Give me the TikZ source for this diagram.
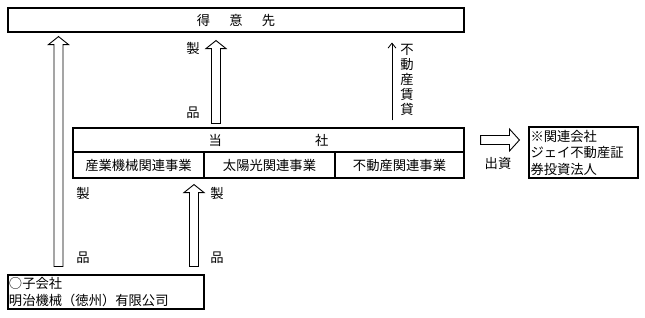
\documentclass[tikz,border=0pt]{standalone}
\usepackage{fontspec}
\setmainfont{Noto Sans CJK JP}
\usetikzlibrary{calc,arrows.meta}

\tikzset{
  box/.style={draw, line width=1.1pt, inner sep=0pt, font=\fontsize{13.3}{16.5}\selectfont},
  lbl/.style={inner sep=0pt, font=\fontsize{13.3}{15}\selectfont},
  fatup/.style={line width=0.9pt, to path={let \p1=(\tikztostart), \p2=(\tikztotarget) in
    (\x1-4.5pt,\y1) -- (\x1-4.5pt,\y2-8pt) -- (\x1-10pt,\y2-8pt) -- (\x1,\y2)
    -- (\x1+10pt,\y2-8pt) -- (\x1+4.5pt,\y2-8pt) -- (\x1+4.5pt,\y1) -- cycle}},
  fatright/.style={line width=0.9pt, to path={let \p1=(\tikztostart), \p2=(\tikztotarget) in
    (\x1,\y1-4.5pt) -- (\x2-10pt,\y1-4.5pt) -- (\x2-10pt,\y1-11pt) -- (\x2,\y1)
    -- (\x2-10pt,\y1+11pt) -- (\x2-10pt,\y1+4.5pt) -- (\x1,\y1+4.5pt) -- cycle}}
}

\begin{document}
\begin{tikzpicture}[x=1pt,y=-1pt,>={Straight Barb[length=5pt,width=8pt]}]
\useasboundingbox (0,0) rectangle (645,317);

% boxes
\node[box, minimum width=456pt, minimum height=24pt] (top) at (236,20) {得\hspace{1.45em}意\hspace{1.45em}先};
\node[box, minimum width=391pt, minimum height=24pt] (tousha) at (268.5,140) {当\hspace{7em}社};
\node[box, minimum width=131pt, minimum height=26pt] (seg1) at (138.5,165) {産業機械関連事業};
\node[box, minimum width=131pt, minimum height=26pt] (seg2) at (269.5,165) {太陽光関連事業};
\node[box, minimum width=129pt, minimum height=26pt] (seg3) at (399.5,165) {不動産関連事業};
\node[box, minimum height=51pt, text width=106pt, inner xsep=1.5pt, align=left] (kanren) at (583.5,152.5)
  {※関連会社\\ジェイ不動産証\\券投資法人};
\node[box, minimum height=34pt, text width=194pt, inner xsep=1pt, align=left] (sub) at (106,292)
  {○子会社\\明治機械（徳州）有限公司};

% arrows
\coordinate (xa) at (58.5,0);
\coordinate (xb) at (216,0);
\coordinate (xc) at (194,0);
\coordinate (xd) at (392,0);
\draw[fatup] ([yshift=8pt]sub.north -| xa) to ([yshift=-4pt]top.south -| xa);
\draw[fatup] ([yshift=4pt]tousha.north -| xb) to ([yshift=-8pt]top.south -| xb);
\draw[fatup] ([yshift=8pt]sub.north -| xc) to ([yshift=-6pt]seg1.south -| xc);
\draw[->, line width=0.8pt] ([yshift=7pt]tousha.north -| xd) -- ([yshift=-10pt]top.south -| xd);
\draw[fatright] ([xshift=16pt]tousha.east) to ([xshift=-9pt]kanren.west |- tousha.east);

% labels
\foreach \n/\x/\y in {a/193/48, b/83/193, c/217/193}
{
  \node[lbl] (sei\n) at (\x,\y) {製};
  \node[lbl] (hin\n) at (\x,\y+65) {品};
}
\node[lbl, align=center] (chintai) at (407,80) {不\\動\\産\\賃\\貸};
\node[lbl] (shushi) at (498,163) {出資};
\end{tikzpicture}
\end{document}
